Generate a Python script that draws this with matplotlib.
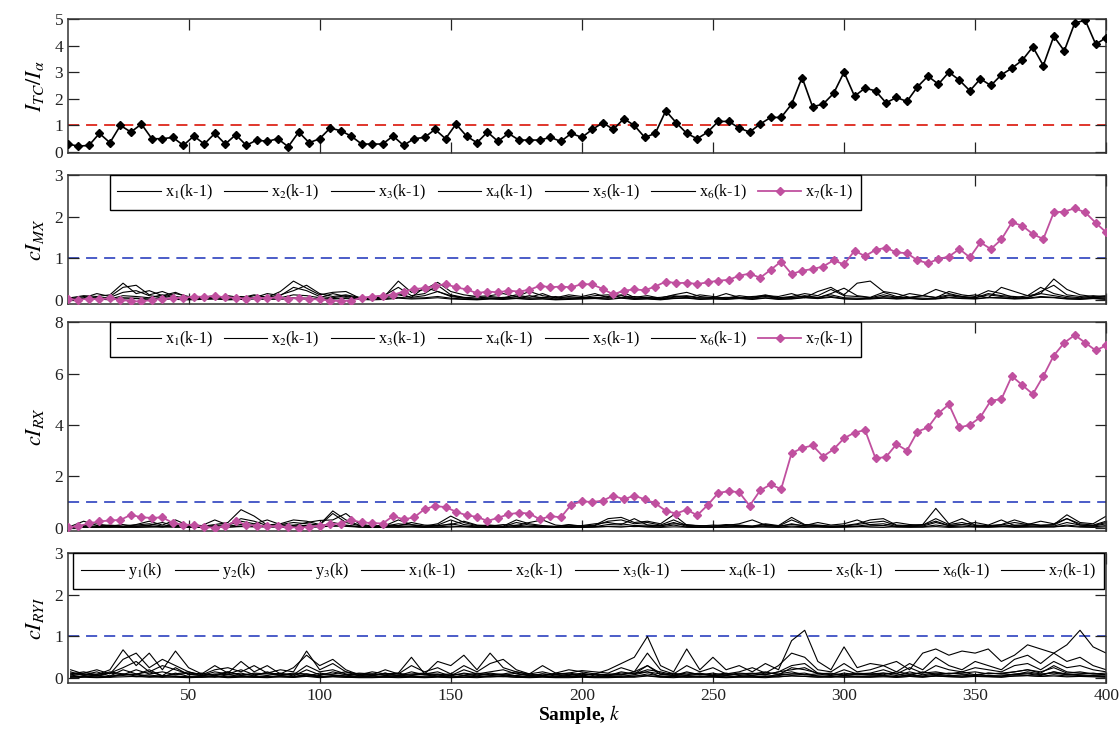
import numpy as np
import matplotlib
matplotlib.use("Agg")
import matplotlib.pyplot as plt

plt.rcParams["font.family"] = ["Liberation Serif", "DejaVu Serif"]
plt.rcParams["mathtext.fontset"] = "stix"
plt.rcParams["lines.scale_dashes"] = False

# sample index of the traced series
k_main = np.arange(4, 401, 4)
k_noise = np.arange(5, 401, 5)
x_ticks = [50, 100, 150, 200, 250, 300, 350, 400]

# I_TC / I_alpha
ratio_tc = [
    0.30, 0.22, 0.25, 0.70, 0.35, 1.00, 0.75, 1.05, 0.50, 0.50,
    0.55, 0.25, 0.60, 0.30, 0.70, 0.30, 0.65, 0.25, 0.45, 0.40,
    0.50, 0.20, 0.75, 0.35, 0.50, 0.90, 0.80, 0.60, 0.30, 0.30,
    0.30, 0.60, 0.25, 0.50, 0.55, 0.85, 0.50, 1.05, 0.60, 0.35,
    0.75, 0.40, 0.70, 0.45, 0.45, 0.45, 0.55, 0.40, 0.70, 0.55,
    0.85, 1.10, 0.85, 1.25, 1.00, 0.55, 0.70, 1.55, 1.10, 0.70,
    0.50, 0.75, 1.15, 1.15, 0.90, 0.75, 1.05, 1.30, 1.30, 1.80,
    2.80, 1.70, 1.80, 2.20, 3.00, 2.10, 2.40, 2.30, 1.85, 2.05,
    1.90, 2.45, 2.85, 2.55, 3.00, 2.70, 2.30, 2.75, 2.50, 2.90,
    3.15, 3.45, 3.95, 3.25, 4.35, 3.80, 4.85, 4.95, 4.05, 4.30,
]

# cI_MX of x7(k-1)
mx_x7 = [
    0.02, 0.00, 0.03, 0.01, 0.04, 0.00, -0.03, -0.04, 0.00, 0.02,
    0.04, 0.05, 0.08, 0.07, 0.09, 0.06, 0.05, 0.03, 0.05, 0.04,
    0.06, 0.03, 0.05, 0.02, 0.01, -0.02, -0.03, -0.02, 0.05, 0.08,
    0.10, 0.12, 0.20, 0.26, 0.28, 0.33, 0.38, 0.30, 0.25, 0.16,
    0.20, 0.18, 0.22, 0.20, 0.24, 0.34, 0.30, 0.32, 0.30, 0.38,
    0.37, 0.26, 0.13, 0.22, 0.25, 0.23, 0.32, 0.44, 0.40, 0.41,
    0.38, 0.42, 0.46, 0.48, 0.58, 0.63, 0.53, 0.72, 0.92, 0.62,
    0.70, 0.74, 0.80, 0.95, 0.85, 1.18, 1.05, 1.20, 1.25, 1.14,
    1.12, 0.95, 0.88, 0.98, 1.04, 1.22, 1.02, 1.38, 1.22, 1.45,
    1.86, 1.78, 1.58, 1.46, 2.10, 2.12, 2.20, 2.10, 1.85, 1.62,
]

# cI_RX of x7(k-1)
rx_x7 = [
    0.02, 0.05, 0.17, 0.24, 0.28, 0.30, 0.50, 0.40, 0.38, 0.40,
    0.18, 0.12, 0.10, 0.02, 0.00, 0.05, 0.26, 0.10, 0.08, 0.06,
    0.05, 0.02, 0.00, 0.03, 0.08, 0.13, 0.16, 0.30, 0.20, 0.18,
    0.16, 0.45, 0.32, 0.40, 0.72, 0.84, 0.80, 0.62, 0.48, 0.42,
    0.26, 0.38, 0.52, 0.58, 0.55, 0.32, 0.45, 0.40, 0.90, 1.02,
    1.00, 1.05, 1.25, 1.10, 1.25, 1.10, 0.95, 0.65, 0.55, 0.70,
    0.48, 0.88, 1.35, 1.42, 1.38, 0.85, 1.45, 1.68, 1.50, 2.90,
    3.10, 3.20, 2.77, 3.05, 3.48, 3.70, 3.80, 2.70, 2.75, 3.25,
    3.00, 3.74, 3.90, 4.45, 4.80, 3.90, 4.00, 4.30, 4.95, 5.00,
    5.90, 5.55, 5.20, 5.90, 6.70, 7.20, 7.50, 7.20, 6.90, 7.10,
]

# cI_MX of x1..x6(k-1)
mx_x1 = [
    0.05, 0.10, 0.08, 0.12, 0.40, 0.15, 0.22, 0.10, 0.18, 0.05,
    0.08, 0.04, 0.10, 0.05, 0.12, 0.06, 0.20, 0.45, 0.28, 0.12,
    0.18, 0.20, 0.05, 0.03, 0.10, 0.45, 0.18, 0.25, 0.42, 0.20,
    0.12, 0.08, 0.10, 0.15, 0.08, 0.20, 0.10, 0.05, 0.12, 0.08,
    0.15, 0.05, 0.20, 0.06, 0.10, 0.04, 0.12, 0.18, 0.08, 0.05,
    0.15, 0.06, 0.04, 0.10, 0.08, 0.15, 0.05, 0.20, 0.30, 0.12,
    0.40, 0.45, 0.20, 0.15, 0.06, 0.10, 0.25, 0.15, 0.08, 0.12,
    0.05, 0.30, 0.20, 0.10, 0.15, 0.50, 0.25, 0.12, 0.08, 0.10,
]
mx_x2 = [
    0.02, 0.05, 0.15, 0.08, 0.30, 0.35, 0.12, 0.20, 0.08, 0.04,
    0.06, 0.10, 0.03, 0.08, 0.05, 0.15, 0.10, 0.30, 0.22, 0.08,
    0.05, 0.10, 0.04, 0.06, 0.12, 0.30, 0.10, 0.15, 0.35, 0.12,
    0.06, 0.04, 0.08, 0.05, 0.12, 0.06, 0.15, 0.04, 0.08, 0.05,
    0.10, 0.12, 0.05, 0.08, 0.04, 0.06, 0.10, 0.05, 0.12, 0.08,
    0.04, 0.10, 0.06, 0.12, 0.05, 0.08, 0.15, 0.10, 0.25, 0.10,
    0.08, 0.05, 0.12, 0.06, 0.15, 0.10, 0.05, 0.20, 0.12, 0.08,
    0.22, 0.15, 0.05, 0.10, 0.30, 0.15, 0.08, 0.05, 0.10, 0.06,
]
mx_x3 = [
    0.00, 0.03, 0.05, 0.02, 0.10, 0.08, 0.05, 0.12, 0.04, 0.02,
    0.03, 0.06, 0.02, 0.05, 0.03, 0.08, 0.05, 0.12, 0.10, 0.05,
    0.15, 0.08, 0.03, 0.02, 0.05, 0.12, 0.06, 0.10, 0.20, 0.08,
    0.04, 0.02, 0.05, 0.03, 0.08, 0.04, 0.06, 0.02, 0.05, 0.03,
    0.06, 0.04, 0.10, 0.03, 0.05, 0.02, 0.06, 0.08, 0.04, 0.05,
    0.03, 0.06, 0.04, 0.08, 0.03, 0.05, 0.10, 0.06, 0.12, 0.05,
    0.04, 0.03, 0.08, 0.05, 0.06, 0.04, 0.03, 0.10, 0.06, 0.05,
    0.12, 0.08, 0.04, 0.06, 0.15, 0.10, 0.05, 0.03, 0.06, 0.04,
]
mx_x4 = [
    0.01, 0.02, 0.03, 0.01, 0.05, 0.04, 0.02, 0.06, 0.02, 0.01,
    0.02, 0.03, 0.01, 0.02, 0.04, 0.03, 0.02, 0.05, 0.04, 0.02,
    0.03, 0.05, 0.02, 0.01, 0.03, 0.06, 0.04, 0.05, 0.08, 0.04,
    0.02, 0.01, 0.03, 0.02, 0.04, 0.02, 0.03, 0.01, 0.02, 0.03,
    0.04, 0.02, 0.05, 0.02, 0.03, 0.01, 0.04, 0.05, 0.02, 0.03,
    0.02, 0.04, 0.02, 0.05, 0.02, 0.03, 0.06, 0.04, 0.08, 0.03,
    0.02, 0.04, 0.05, 0.03, 0.04, 0.02, 0.03, 0.06, 0.04, 0.03,
    0.06, 0.05, 0.03, 0.04, 0.08, 0.06, 0.03, 0.02, 0.04, 0.02,
]
mx_x5 = [
    0.03, 0.08, 0.04, 0.06, 0.18, 0.22, 0.10, 0.06, 0.15, 0.08,
    0.05, 0.04, 0.08, 0.03, 0.10, 0.06, 0.12, 0.22, 0.35, 0.15,
    0.08, 0.12, 0.06, 0.03, 0.08, 0.15, 0.06, 0.30, 0.20, 0.10,
    0.05, 0.08, 0.03, 0.06, 0.04, 0.10, 0.05, 0.08, 0.03, 0.06,
    0.05, 0.08, 0.12, 0.04, 0.06, 0.03, 0.08, 0.10, 0.05, 0.04,
    0.06, 0.05, 0.08, 0.10, 0.04, 0.06, 0.08, 0.05, 0.15, 0.28,
    0.10, 0.06, 0.18, 0.08, 0.05, 0.10, 0.06, 0.12, 0.08, 0.05,
    0.15, 0.10, 0.08, 0.05, 0.20, 0.35, 0.12, 0.08, 0.05, 0.08,
]
mx_x6 = [
    0.00, 0.01, 0.02, 0.00, 0.02, 0.03, 0.01, 0.02, 0.01, 0.00,
    0.01, 0.02, 0.00, 0.01, 0.02, 0.01, 0.02, 0.03, 0.02, 0.01,
    0.02, 0.03, 0.01, 0.00, 0.01, 0.04, 0.02, 0.03, 0.05, 0.02,
    0.01, 0.00, 0.02, 0.01, 0.03, 0.01, 0.02, 0.00, 0.01, 0.02,
    0.03, 0.01, 0.04, 0.01, 0.02, 0.00, 0.03, 0.04, 0.01, 0.02,
    0.01, 0.03, 0.01, 0.04, 0.01, 0.02, 0.05, 0.03, 0.06, 0.02,
    0.01, 0.02, 0.04, 0.02, 0.03, 0.01, 0.02, 0.05, 0.03, 0.02,
    0.05, 0.04, 0.02, 0.03, 0.06, 0.05, 0.02, 0.01, 0.03, 0.01,
]

# cI_RX of x1..x6(k-1)
rx_x1 = [
    0.05, 0.25, 0.08, 0.10, 0.06, 0.12, 0.25, 0.10, 0.30, 0.08,
    0.05, 0.12, 0.20, 0.70, 0.45, 0.10, 0.15, 0.30, 0.25, 0.12,
    0.65, 0.30, 0.10, 0.05, 0.08, 0.30, 0.12, 0.06, 0.15, 0.45,
    0.20, 0.08, 0.10, 0.06, 0.30, 0.15, 0.08, 0.05, 0.12, 0.06,
    0.10, 0.35, 0.40, 0.20, 0.25, 0.15, 0.50, 0.10, 0.08, 0.06,
    0.12, 0.10, 0.06, 0.15, 0.08, 0.40, 0.12, 0.10, 0.06, 0.08,
    0.15, 0.30, 0.35, 0.10, 0.08, 0.12, 0.75, 0.15, 0.35, 0.10,
    0.08, 0.12, 0.30, 0.15, 0.10, 0.12, 0.50, 0.20, 0.15, 0.45,
]
rx_x2 = [
    0.02, 0.10, 0.05, 0.08, 0.04, 0.10, 0.15, 0.06, 0.12, 0.05,
    0.04, 0.08, 0.12, 0.35, 0.25, 0.08, 0.12, 0.20, 0.15, 0.10,
    0.55, 0.20, 0.08, 0.04, 0.06, 0.15, 0.10, 0.05, 0.10, 0.30,
    0.12, 0.06, 0.08, 0.04, 0.20, 0.10, 0.06, 0.04, 0.10, 0.05,
    0.08, 0.25, 0.30, 0.15, 0.20, 0.10, 0.30, 0.08, 0.06, 0.05,
    0.10, 0.08, 0.05, 0.12, 0.06, 0.30, 0.10, 0.08, 0.05, 0.06,
    0.12, 0.20, 0.25, 0.08, 0.06, 0.10, 0.35, 0.12, 0.20, 0.08,
    0.06, 0.10, 0.20, 0.12, 0.08, 0.10, 0.35, 0.15, 0.10, 0.25,
]
rx_x3 = [
    0.01, 0.04, 0.03, 0.05, 0.02, 0.06, 0.08, 0.03, 0.10, 0.02,
    0.03, 0.05, 0.06, 0.12, 0.10, 0.04, 0.06, 0.10, 0.08, 0.05,
    0.20, 0.10, 0.04, 0.02, 0.03, 0.08, 0.05, 0.03, 0.06, 0.15,
    0.06, 0.03, 0.05, 0.02, 0.10, 0.05, 0.03, 0.02, 0.05, 0.03,
    0.04, 0.12, 0.15, 0.08, 0.10, 0.06, 0.20, 0.05, 0.03, 0.02,
    0.06, 0.04, 0.03, 0.08, 0.04, 0.15, 0.06, 0.05, 0.03, 0.04,
    0.06, 0.12, 0.15, 0.05, 0.04, 0.06, 0.20, 0.08, 0.12, 0.05,
    0.04, 0.06, 0.10, 0.08, 0.05, 0.06, 0.20, 0.10, 0.06, 0.15,
]
rx_x4 = [
    0.00, 0.02, 0.01, 0.03, 0.01, 0.02, 0.04, 0.02, 0.05, 0.01,
    0.02, 0.03, 0.02, 0.06, 0.05, 0.02, 0.03, 0.05, 0.04, 0.02,
    0.08, 0.05, 0.02, 0.01, 0.02, 0.04, 0.03, 0.01, 0.03, 0.06,
    0.03, 0.01, 0.02, 0.01, 0.05, 0.02, 0.01, 0.01, 0.02, 0.01,
    0.02, 0.05, 0.06, 0.04, 0.05, 0.03, 0.10, 0.02, 0.01, 0.01,
    0.03, 0.02, 0.01, 0.04, 0.02, 0.06, 0.03, 0.02, 0.01, 0.02,
    0.03, 0.06, 0.08, 0.02, 0.02, 0.03, 0.10, 0.04, 0.06, 0.02,
    0.02, 0.03, 0.05, 0.04, 0.02, 0.03, 0.10, 0.05, 0.03, 0.08,
]
rx_x5 = [
    0.03, 0.08, 0.15, 0.06, 0.12, 0.05, 0.10, 0.20, 0.06, 0.12,
    0.08, 0.30, 0.10, 0.25, 0.15, 0.30, 0.12, 0.08, 0.20, 0.28,
    0.30, 0.55, 0.15, 0.06, 0.10, 0.08, 0.20, 0.10, 0.08, 0.12,
    0.25, 0.10, 0.06, 0.12, 0.08, 0.20, 0.30, 0.10, 0.06, 0.08,
    0.15, 0.20, 0.12, 0.35, 0.10, 0.08, 0.15, 0.12, 0.06, 0.10,
    0.08, 0.15, 0.30, 0.10, 0.06, 0.12, 0.08, 0.20, 0.10, 0.15,
    0.30, 0.10, 0.08, 0.20, 0.12, 0.10, 0.25, 0.08, 0.12, 0.20,
    0.10, 0.30, 0.08, 0.12, 0.25, 0.15, 0.35, 0.10, 0.08, 0.20,
]
rx_x6 = [
    0.00, 0.01, 0.02, 0.01, 0.03, 0.01, 0.02, 0.04, 0.01, 0.02,
    0.01, 0.05, 0.02, 0.04, 0.03, 0.05, 0.02, 0.01, 0.03, 0.04,
    0.05, 0.08, 0.03, 0.01, 0.02, 0.01, 0.03, 0.02, 0.01, 0.02,
    0.04, 0.02, 0.01, 0.02, 0.01, 0.03, 0.05, 0.02, 0.01, 0.01,
    0.03, 0.04, 0.02, 0.06, 0.02, 0.01, 0.03, 0.02, 0.01, 0.02,
    0.01, 0.03, 0.05, 0.02, 0.01, 0.02, 0.01, 0.04, 0.02, 0.03,
    0.05, 0.02, 0.01, 0.04, 0.02, 0.02, 0.04, 0.01, 0.02, 0.04,
    0.02, 0.05, 0.01, 0.02, 0.04, 0.03, 0.06, 0.02, 0.01, 0.03,
]

# cI_RYI of y1..y3(k), x1..x7(k-1)
ryi_y1 = [
    0.10, 0.15, 0.08, 0.20, 0.68, 0.30, 0.60, 0.20, 0.65, 0.25,
    0.10, 0.30, 0.12, 0.40, 0.15, 0.30, 0.10, 0.25, 0.55, 0.30,
    0.45, 0.20, 0.08, 0.15, 0.10, 0.12, 0.50, 0.10, 0.40, 0.30,
    0.55, 0.20, 0.60, 0.25, 0.15, 0.10, 0.30, 0.12, 0.20, 0.15,
    0.10, 0.20, 0.35, 0.50, 1.00, 0.30, 0.15, 0.70, 0.20, 0.50,
    0.20, 0.30, 0.15, 0.35, 0.20, 0.90, 1.15, 0.40, 0.20, 0.75,
    0.25, 0.35, 0.30, 0.40, 0.20, 0.60, 0.70, 0.55, 0.65, 0.60,
    0.70, 0.40, 0.55, 0.80, 0.70, 0.60, 0.80, 1.15, 0.75, 0.60,
]
ryi_y2 = [
    0.08, 0.12, 0.20, 0.10, 0.45, 0.60, 0.25, 0.45, 0.30, 0.15,
    0.08, 0.20, 0.25, 0.15, 0.30, 0.12, 0.20, 0.15, 0.65, 0.20,
    0.35, 0.15, 0.10, 0.08, 0.20, 0.10, 0.30, 0.15, 0.25, 0.10,
    0.30, 0.15, 0.35, 0.45, 0.20, 0.10, 0.15, 0.08, 0.12, 0.18,
    0.15, 0.12, 0.25, 0.15, 0.60, 0.20, 0.10, 0.30, 0.15, 0.25,
    0.10, 0.15, 0.25, 0.12, 0.30, 0.60, 0.50, 0.20, 0.15, 0.35,
    0.15, 0.20, 0.30, 0.15, 0.35, 0.20, 0.50, 0.30, 0.20, 0.40,
    0.30, 0.20, 0.45, 0.55, 0.35, 0.60, 0.40, 0.50, 0.30, 0.20,
]
ryi_y3 = [
    0.05, 0.10, 0.06, 0.12, 0.25, 0.40, 0.15, 0.30, 0.20, 0.10,
    0.06, 0.15, 0.10, 0.20, 0.08, 0.12, 0.10, 0.08, 0.30, 0.15,
    0.20, 0.10, 0.06, 0.05, 0.12, 0.06, 0.15, 0.08, 0.10, 0.06,
    0.20, 0.10, 0.15, 0.20, 0.10, 0.06, 0.10, 0.05, 0.08, 0.10,
    0.08, 0.06, 0.15, 0.10, 0.30, 0.12, 0.06, 0.15, 0.08, 0.12,
    0.06, 0.10, 0.12, 0.08, 0.15, 0.30, 0.35, 0.12, 0.08, 0.20,
    0.10, 0.12, 0.20, 0.10, 0.25, 0.12, 0.30, 0.20, 0.15, 0.25,
    0.20, 0.15, 0.30, 0.35, 0.20, 0.40, 0.25, 0.30, 0.20, 0.15,
]
ryi_x1 = [
    0.12, 0.08, 0.15, 0.05, 0.20, 0.10, 0.15, 0.06, 0.25, 0.08,
    0.12, 0.05, 0.15, 0.08, 0.10, 0.06, 0.12, 0.05, 0.20, 0.08,
    0.10, 0.15, 0.05, 0.10, 0.08, 0.12, 0.06, 0.10, 0.15, 0.05,
    0.12, 0.08, 0.10, 0.06, 0.12, 0.05, 0.10, 0.08, 0.06, 0.12,
    0.05, 0.10, 0.08, 0.15, 0.30, 0.08, 0.12, 0.06, 0.10, 0.08,
    0.12, 0.06, 0.10, 0.08, 0.15, 0.20, 0.25, 0.10, 0.06, 0.12,
    0.08, 0.10, 0.12, 0.06, 0.15, 0.08, 0.12, 0.10, 0.15, 0.08,
    0.12, 0.10, 0.15, 0.20, 0.12, 0.30, 0.15, 0.12, 0.10, 0.08,
]
ryi_x2 = [
    0.05, 0.03, 0.08, 0.02, 0.10, 0.05, 0.08, 0.03, 0.12, 0.04,
    0.06, 0.02, 0.08, 0.04, 0.05, 0.03, 0.06, 0.02, 0.10, 0.04,
    0.05, 0.08, 0.02, 0.05, 0.04, 0.06, 0.03, 0.05, 0.08, 0.02,
    0.06, 0.04, 0.05, 0.03, 0.06, 0.02, 0.05, 0.04, 0.03, 0.06,
    0.02, 0.05, 0.04, 0.08, 0.15, 0.04, 0.06, 0.03, 0.05, 0.04,
    0.06, 0.03, 0.05, 0.04, 0.08, 0.10, 0.12, 0.05, 0.03, 0.06,
    0.04, 0.05, 0.06, 0.03, 0.08, 0.04, 0.06, 0.05, 0.08, 0.04,
    0.06, 0.05, 0.08, 0.10, 0.06, 0.15, 0.08, 0.06, 0.05, 0.04,
]
ryi_x3 = [
    0.15, 0.06, 0.10, 0.12, 0.08, 0.20, 0.10, 0.15, 0.08, 0.12,
    0.10, 0.08, 0.15, 0.06, 0.12, 0.10, 0.08, 0.12, 0.10, 0.06,
    0.15, 0.08, 0.12, 0.10, 0.06, 0.08, 0.10, 0.12, 0.08, 0.10,
    0.06, 0.12, 0.08, 0.10, 0.15, 0.08, 0.06, 0.10, 0.12, 0.08,
    0.10, 0.08, 0.12, 0.10, 0.20, 0.15, 0.08, 0.12, 0.10, 0.06,
    0.08, 0.12, 0.10, 0.15, 0.08, 0.25, 0.20, 0.12, 0.10, 0.08,
    0.12, 0.10, 0.08, 0.15, 0.10, 0.12, 0.15, 0.10, 0.12, 0.15,
    0.10, 0.12, 0.15, 0.20, 0.15, 0.25, 0.12, 0.15, 0.10, 0.12,
]
ryi_x4 = [
    0.02, 0.04, 0.03, 0.05, 0.08, 0.10, 0.04, 0.06, 0.05, 0.03,
    0.04, 0.06, 0.03, 0.05, 0.04, 0.03, 0.05, 0.04, 0.08, 0.03,
    0.06, 0.04, 0.03, 0.02, 0.04, 0.03, 0.05, 0.03, 0.04, 0.02,
    0.05, 0.03, 0.06, 0.08, 0.04, 0.03, 0.04, 0.02, 0.03, 0.04,
    0.03, 0.02, 0.05, 0.04, 0.10, 0.05, 0.03, 0.06, 0.04, 0.05,
    0.03, 0.04, 0.05, 0.03, 0.06, 0.10, 0.08, 0.05, 0.04, 0.06,
    0.04, 0.05, 0.06, 0.04, 0.08, 0.05, 0.10, 0.06, 0.05, 0.08,
    0.06, 0.05, 0.10, 0.12, 0.08, 0.15, 0.10, 0.08, 0.06, 0.05,
]
ryi_x5 = [
    0.00, 0.02, 0.01, 0.02, 0.03, 0.04, 0.02, 0.03, 0.02, 0.01,
    0.02, 0.03, 0.01, 0.02, 0.02, 0.01, 0.03, 0.02, 0.04, 0.01,
    0.03, 0.02, 0.01, 0.01, 0.02, 0.01, 0.02, 0.01, 0.02, 0.01,
    0.02, 0.01, 0.03, 0.04, 0.02, 0.01, 0.02, 0.01, 0.01, 0.02,
    0.01, 0.01, 0.02, 0.02, 0.05, 0.02, 0.01, 0.03, 0.02, 0.02,
    0.01, 0.02, 0.02, 0.01, 0.03, 0.05, 0.04, 0.02, 0.02, 0.03,
    0.02, 0.02, 0.03, 0.02, 0.04, 0.02, 0.05, 0.03, 0.02, 0.04,
    0.03, 0.02, 0.05, 0.06, 0.04, 0.08, 0.05, 0.04, 0.03, 0.02,
]
ryi_x6 = [
    0.20, 0.10, 0.05, 0.15, 0.10, 0.08, 0.20, 0.05, 0.10, 0.15,
    0.05, 0.10, 0.08, 0.12, 0.05, 0.15, 0.06, 0.10, 0.05, 0.12,
    0.08, 0.05, 0.10, 0.06, 0.12, 0.05, 0.08, 0.10, 0.05, 0.08,
    0.10, 0.05, 0.12, 0.08, 0.06, 0.10, 0.05, 0.12, 0.08, 0.05,
    0.10, 0.06, 0.08, 0.12, 0.15, 0.10, 0.06, 0.08, 0.12, 0.05,
    0.10, 0.08, 0.06, 0.12, 0.10, 0.15, 0.08, 0.10, 0.12, 0.06,
    0.10, 0.08, 0.12, 0.10, 0.06, 0.15, 0.08, 0.12, 0.10, 0.06,
    0.12, 0.10, 0.08, 0.15, 0.10, 0.12, 0.08, 0.10, 0.12, 0.08,
]
ryi_x7 = [
    0.03, 0.05, 0.02, 0.04, 0.06, 0.03, 0.05, 0.02, 0.04, 0.03,
    0.02, 0.04, 0.03, 0.05, 0.02, 0.04, 0.03, 0.02, 0.05, 0.03,
    0.04, 0.02, 0.03, 0.05, 0.02, 0.04, 0.03, 0.02, 0.04, 0.03,
    0.02, 0.05, 0.03, 0.04, 0.02, 0.03, 0.05, 0.02, 0.04, 0.03,
    0.03, 0.04, 0.02, 0.05, 0.06, 0.03, 0.04, 0.02, 0.03, 0.05,
    0.02, 0.04, 0.03, 0.05, 0.03, 0.06, 0.04, 0.03, 0.05, 0.02,
    0.04, 0.03, 0.05, 0.02, 0.04, 0.03, 0.05, 0.04, 0.03, 0.05,
    0.04, 0.03, 0.05, 0.06, 0.04, 0.05, 0.03, 0.04, 0.05, 0.03,
]

x_labels = ["x$_{%d}$(k-1)" % i for i in range(1, 8)]
y_labels = ["y$_{%d}$(k)" % i for i in range(1, 4)]

MAGENTA = "#C0509F"
BLUE = "#4B5CC8"
RED = "#E0362C"


def style_axes(ax, ylim, yticks, show_xlabels=False):
    ax.set_xlim(4, 400)
    ax.set_ylim(*ylim)
    ax.set_yticks(yticks)
    ax.set_xticks(x_ticks)
    ax.tick_params(direction="in", top=True, right=True, length=8, width=0.9,
                   labelsize=12.5, colors="#222222")
    if not show_xlabels:
        ax.set_xticklabels([])
    for sp in ax.spines.values():
        sp.set_linewidth(1.1)
        sp.set_color("#333333")


def threshold(ax, color):
    ax.axhline(1.0, color=color, lw=1.4, dashes=(8, 5), zorder=1)


def add_legend(ax, x0, width, ncol):
    leg = ax.legend(loc="upper left", bbox_to_anchor=(x0, 0, width, 1.0),
                    mode="expand", ncol=ncol, fontsize=11.5, fancybox=False,
                    edgecolor="black", framealpha=1, borderaxespad=0,
                    handlelength=2.7, handletextpad=0.25, columnspacing=0.6,
                    borderpad=0.5)
    leg.get_frame().set_linewidth(1.0)


fig = plt.figure(figsize=(11.2, 7.29), dpi=100)
left, width = 0.0607, 0.927
ax1 = fig.add_axes([left, 0.790, width, 0.184])
ax2 = fig.add_axes([left, 0.583, width, 0.177])
ax3 = fig.add_axes([left, 0.272, width, 0.286])
ax4 = fig.add_axes([left, 0.063, width, 0.178])

# top panel: current ratio
threshold(ax1, RED)
ax1.plot(k_main, ratio_tc, color="black", lw=1.2, marker="D", ms=4, zorder=3)
style_axes(ax1, (-0.04, 5), [0, 1, 2, 3, 4, 5])
ax1.set_ylabel(r"$I_{TC}/I_{\alpha}$", fontsize=16, labelpad=6)

# contribution indices of the lagged inputs
for ax, lines, x7, ylim, yticks, name in [
    (ax2, [mx_x1, mx_x2, mx_x3, mx_x4, mx_x5, mx_x6], mx_x7, (-0.1, 3), [0, 1, 2, 3], r"$cI_{MX}$"),
    (ax3, [rx_x1, rx_x2, rx_x3, rx_x4, rx_x5, rx_x6], rx_x7, (-0.12, 8), [0, 2, 4, 6, 8], r"$cI_{RX}$"),
]:
    threshold(ax, BLUE)
    for vals, lab in zip(lines, x_labels[:6]):
        ax.plot(k_noise, vals, color="black", lw=0.8, label=lab, zorder=2)
    ax.plot(k_main, x7, color=MAGENTA, lw=1.3, marker="D", ms=3.8,
            label=x_labels[6], zorder=3)
    style_axes(ax, ylim, yticks)
    ax.set_ylabel(name, fontsize=16, labelpad=6)
    add_legend(ax, 0.040, 0.724, 7)

# bottom panel: outputs and inputs
threshold(ax4, BLUE)
ryi_lines = [ryi_y1, ryi_y2, ryi_y3, ryi_x1, ryi_x2, ryi_x3,
             ryi_x4, ryi_x5, ryi_x6, ryi_x7]
for vals, lab in zip(ryi_lines, y_labels + x_labels):
    ax4.plot(k_noise, vals, color="black", lw=0.8, label=lab, zorder=2)
style_axes(ax4, (-0.12, 3), [0, 1, 2, 3], show_xlabels=True)
ax4.set_ylabel(r"$cI_{RYI}$", fontsize=16, labelpad=6)
add_legend(ax4, 0.005, 0.993, 10)

fig.text(0.517, 0.013, "Sample, $k$", ha="center", va="baseline",
         fontsize=14, fontweight="bold")

fig.savefig("out.png", dpi=100)
